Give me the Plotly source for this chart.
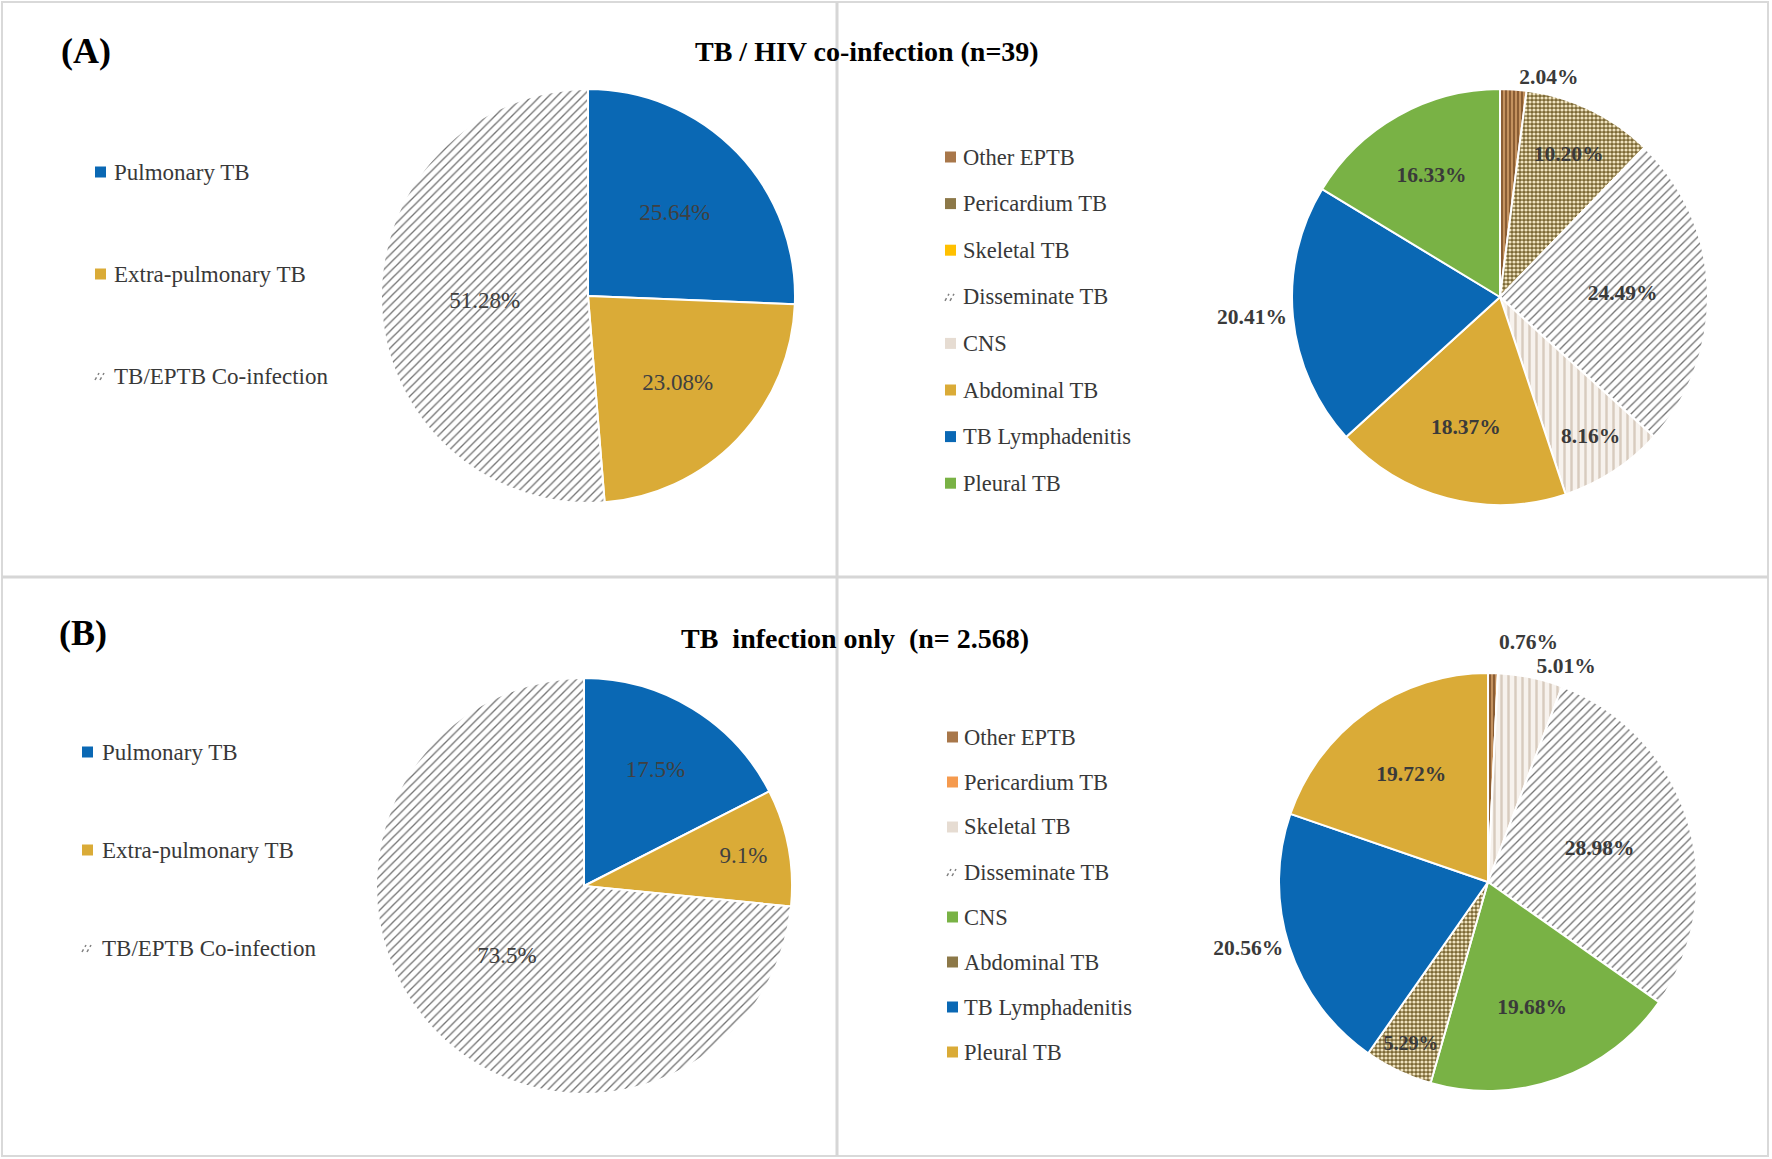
import plotly.graph_objects as go

W, H = 1772, 1159

# ---------------- data ----------------
main_labels = ["Pulmonary TB", "Extra-pulmonary TB", "TB/EPTB Co-infection"]
hiv_main_values = [25.64, 23.08, 51.28]
tb_main_values = [17.5, 9.1, 73.5]

site_labels = ["Other EPTB", "Pericardium TB", "Skeletal TB", "Disseminate TB",
               "CNS", "Abdominal TB", "TB Lymphadenitis", "Pleural TB"]
hiv_site_values = [2.04, 10.20, 0, 24.49, 8.16, 18.37, 20.41, 16.33]
tb_site_values = [0.76, 0, 5.01, 28.98, 19.68, 5.29, 20.56, 19.72]

title_a = "TB / HIV co-infection (n=39)"
title_b = "TB\u00a0\u00a0infection only\u00a0\u00a0(n= 2.568)"
panel_a = "(A)"
panel_b = "(B)"

# ---------------- styles ----------------
FONT = "Liberation Serif, Times New Roman, serif"
STYLES = {
    # key: color, pattern shape, fg, bg, size, solidity
    "blue":   ("#0A68B4", "", None, None, 8, 0.3),
    "gold":   ("#DAAB37", "", None, None, 8, 0.3),
    "green":  ("#79B245", "", None, None, 8, 0.3),
    "yellow": ("#FFC000", "", None, None, 8, 0.3),
    "orange": ("#F59A4E", "", None, None, 8, 0.3),
    "hatch":  ("#FFFFFF", "/", "#737373", "#FFFFFF", 6, 0.22),
    "dots":   ("#8C7848", ".", "#F0E4C0", "#7C6834", 4, 0.5),
    "beige":  ("#EEE6DE", "|", "#D8CBBE", "#F7F2ED", 7, 0.35),
    "brown":  ("#A8774A", "|", "#7C4F28", "#C4925F", 4, 0.4),
}
SWATCH = {
    "blue": "#0A68B4", "gold": "#DAAB37", "green": "#79B245", "yellow": "#FFC000",
    "orange": "#F59A4E", "dots": "#8C7848", "beige": "#E6DCD2", "brown": "#A8774A",
}

main_styles = ["blue", "gold", "hatch"]
hiv_site_styles = ["brown", "dots", "yellow", "hatch", "beige", "gold", "blue", "green"]
tb_site_styles = ["brown", "orange", "beige", "hatch", "green", "dots", "blue", "gold"]

hiv_site_textpos = ["outside", "inside", "inside", "inside", "inside", "inside", "outside", "inside"]
tb_site_textpos = ["outside", "inside", "outside", "inside", "inside", "inside", "outside", "inside"]
main_textpos = ["inside", "inside", "inside"]


def px(x):
    return x / W


def py(y):
    return 1 - y / H


def fmt(values, dec):
    return [("" if v == 0 else f"{v:.{dec}f}%") for v in values]


def pie(labels, values, styles, textpos, dec, center, r, font):
    cx, cy = center
    st = [STYLES[s] for s in styles]
    return go.Pie(
        labels=labels, values=values, sort=False, direction="clockwise", rotation=0,
        text=fmt(values, dec), textinfo="text", textposition=textpos,
        insidetextorientation="horizontal",
        textfont=font,
        marker=dict(
            colors=[s[0] for s in st],
            line=dict(color="white", width=2),
            pattern=dict(
                shape=[s[1] for s in st],
                fgcolor=[s[2] or s[0] for s in st],
                bgcolor=[s[3] or s[0] for s in st],
                size=[s[4] for s in st],
                solidity=[s[5] for s in st],
                fillmode="replace",
            ),
        ),
        domain=dict(x=[px(cx - r), px(cx + r)], y=[py(cy + r), py(cy - r)]),
        showlegend=False, hoverinfo="label+value",
    )


left_font = dict(family=FONT, size=23, color="#404040")
right_font = dict(family=FONT, size=21.5, color="#3A3A3A", weight="bold")

fig = go.Figure()
fig.add_trace(pie(main_labels, hiv_main_values, main_styles, main_textpos, 2, (588, 296), 207, left_font))
fig.add_trace(pie(site_labels, hiv_site_values, hiv_site_styles, hiv_site_textpos, 2, (1500, 297), 208, right_font))
fig.add_trace(pie(main_labels, tb_main_values, main_styles, main_textpos, 1, (584, 886), 208, left_font))
fig.add_trace(pie(site_labels, tb_site_values, tb_site_styles, tb_site_textpos, 2, (1488, 882), 209, right_font))

shapes = []
annotations = []


def add_legend(labels, styles, mx, tx, y0, step, fsize, size=11):
    for i, (lab, s) in enumerate(zip(labels, styles)):
        y = y0 + i * step
        if s == "hatch":
            for dx in (0, 5):
                shapes.append(dict(type="line", xref="paper", yref="paper",
                                   x0=px(mx + dx), y0=py(y + 4), x1=px(mx + dx + 4), y1=py(y - 3),
                                   line=dict(color="#808080", width=1.5, dash="dot")))
        else:
            shapes.append(dict(type="rect", xref="paper", yref="paper",
                               x0=px(mx), x1=px(mx + size), y0=py(y + size / 2), y1=py(y - size / 2),
                               fillcolor=SWATCH[s], line=dict(width=0)))
        annotations.append(dict(text=lab, xref="paper", yref="paper", x=px(tx), y=py(y),
                                xanchor="left", yanchor="middle", showarrow=False,
                                font=dict(family=FONT, size=fsize, color="#383838")))


add_legend(main_labels, main_styles, 95, 112, 172, 102, 23)
add_legend(site_labels, hiv_site_styles, 945, 961, 157, 46.6, 22.5)
add_legend(main_labels, main_styles, 82, 100, 752, 98, 23)
add_legend(site_labels, tb_site_styles, 947, 962, 737, 45, 22.5)

for txt, x, y, s in [(panel_a, 86, 51, 36), (panel_b, 83, 633, 36)]:
    annotations.append(dict(text=f"<b>{txt}</b>", xref="paper", yref="paper", x=px(x), y=py(y),
                            xanchor="center", yanchor="middle", showarrow=False,
                            font=dict(family=FONT, size=s, color="#000000")))
for txt, x, y in [(title_a, 867, 51), (title_b, 855, 638)]:
    annotations.append(dict(text=f"<b>{txt}</b>", xref="paper", yref="paper", x=px(x), y=py(y),
                            xanchor="center", yanchor="middle", showarrow=False,
                            font=dict(family=FONT, size=28, color="#000000")))

# frame and dividers
shapes.append(dict(type="rect", xref="paper", yref="paper", x0=px(2), x1=px(1768), y0=py(1156), y1=py(2),
                   line=dict(color="#D9D9D9", width=2), layer="below"))
shapes.append(dict(type="line", xref="paper", yref="paper", x0=px(837), x1=px(837), y0=py(1156), y1=py(2),
                   line=dict(color="#D6D6D6", width=3), layer="below"))
shapes.append(dict(type="line", xref="paper", yref="paper", x0=px(2), x1=px(1768), y0=py(577), y1=py(577),
                   line=dict(color="#D6D6D6", width=3), layer="below"))

fig.update_layout(
    width=W, height=H, margin=dict(l=0, r=0, t=0, b=0),
    paper_bgcolor="white", plot_bgcolor="white", showlegend=False,
    shapes=shapes, annotations=annotations,
    font=dict(family=FONT),
)

post = (
    "document.body.style.margin='0px';"
    "document.querySelectorAll('path.textline').forEach(function(e){e.style.display='none';});"
)
fig.write_html("out.html", post_script=post, config={"displayModeBar": False})
